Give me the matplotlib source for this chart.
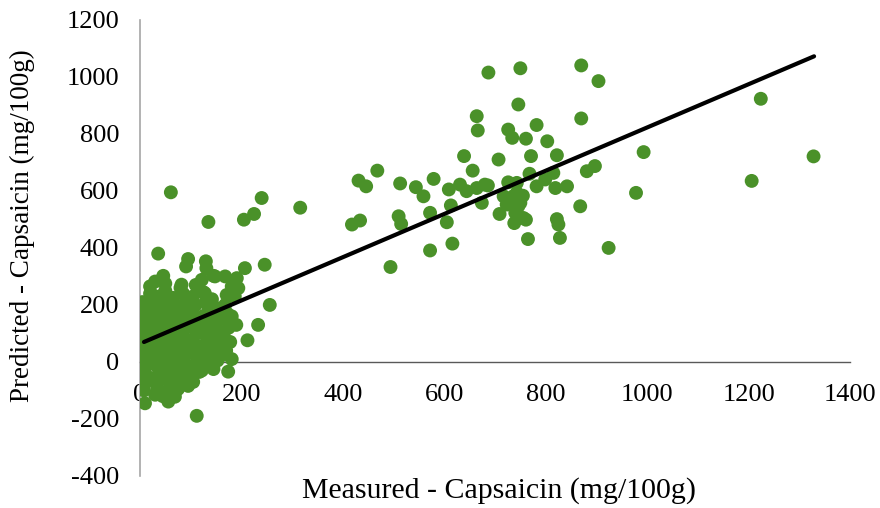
import matplotlib
matplotlib.use('Agg')
import matplotlib.pyplot as plt

plt.rcParams['font.family'] = ['Liberation Serif', 'DejaVu Serif']
plt.rcParams['axes.unicode_minus'] = False

# Low-concentration samples (dense cluster near the origin)
low_x = [5, 8, 4, 10, 6, 12, 5, 9, 4, 11, 6, 10, 5, 12, 8, 10,
         25, 30, 22, 35, 28, 24, 33, 27, 36, 22, 30, 38, 26, 34, 30, 36, 46, 25,
         45, 52, 48, 55, 42, 58, 47, 53, 44, 57, 49, 55, 45, 59, 56, 50,
         65, 70, 62, 75, 68, 72, 64, 78, 66, 73, 62, 77, 69, 69, 61, 82,
         85, 90, 83, 95, 88, 92, 84, 98, 86, 94, 82, 97, 89, 95, 95, 91,
         105, 110, 102, 115, 108, 112, 104, 118, 106, 114, 101, 117, 112,
         125, 122, 130, 128, 135, 124, 138, 127, 133, 122, 136, 128, 131, 130, 131,
         145, 148, 142, 150, 155, 146, 152, 144, 157, 149, 153, 145,
         168, 171, 168, 172, 175, 165, 178, 170, 181, 174, 181,
         191, 194, 187, 181, 171, 190,
         205, 225, 240, 135, 207, 246, 256, 233, 212,
         15, 18, 14, 17, 16, 19, 40, 42, 38, 41, 39, 60, 63, 58, 61, 80, 82,
         78, 100, 98, 103, 120, 118, 122, 140, 138, 160, 158, 20, 50, 80, 110,
         30, 55, 75, 105, 45, 20]
low_y = [210, 185, 160, 140, 120, 100, 80, 60, 40, 20, 0, -20, -45, -70, -100, -145,
         205, 180, 155, 130, 110, 90, 70, 50, 30, 10, -10, -35, -60, -90, 282, 380, 302, 235,
         215, 190, 165, 145, 125, 105, 85, 60, 40, 20, -5, -30, -55, -75, -139, 250,
         225, 200, 175, 155, 135, 110, 90, 70, 45, 25, 0, -20, -50, -122, 595, 271,
         240, 210, 185, 165, 140, 120, 95, 75, 50, 30, 5, -15, -40, -84, 361, 335,
         230, 200, 170, 150, 125, 100, 75, 55, 30, 10, -15, -35, -189,
         245, 288, 210, 241, 180, 160, 130, 105, 80, 55, 35, 10, -10, 353, 329,
         302, 300, 220, 190, 165, 140, 110, 85, 60, 35, 5, -25,
         300, 235, 200, 170, 120, 95, 70, 40, 10, -34, 265,
         294, 259, 230, 160, 148, 130,
         499, 519, 575, 491, 329, 341, 200, 130, 76,
         195, 150, 95, 45, -5, -55, 175, 100, 10, -45, 230, 160, 60, -10, -80, 20, 150,
         -60, 40, -50, 185, 140, 25, -30, 50, 160, 150, 20, 265, 275, 260, 270,
         -115, -100, -95, -70, -120, 240]

# Higher-concentration samples
high_x = [316, 418, 434, 431, 446, 468, 494, 510, 515, 513, 544, 559, 572, 572,
          579, 605, 609, 613, 616, 631, 639, 644, 656, 664, 664, 666, 674, 680,
          686, 687, 707, 709, 717, 723, 726, 726, 734, 736, 738, 740, 743, 743,
          746, 746, 750, 750, 755, 756, 761, 761, 765, 768, 771, 782, 782, 799,
          803, 815, 819, 822, 822, 825, 828, 842, 868, 870, 870, 881, 897, 904,
          924, 978, 993, 1206, 1224, 1328]
high_y = [541, 482, 496, 636, 616, 671, 333, 511, 484, 626, 613, 581, 523, 391,
          642, 490, 605, 549, 415, 622, 722, 599, 671, 610, 862, 812, 558, 622,
          619, 1015, 710, 519, 581, 552, 815, 630, 786, 581, 487, 523, 628, 593,
          546, 903, 1030, 558, 583, 505, 783, 499, 431, 660, 722, 831, 616, 640,
          774, 663, 610, 725, 501, 482, 435, 616, 546, 854, 1040, 669, 687, 985,
          400, 593, 736, 635, 923, 721]

# Regression line end points
fit_x = [8, 1329]
fit_y = [70, 1072]

x_ticks = [0, 200, 400, 600, 800, 1000, 1200, 1400]
y_ticks = [-400, -200, 0, 200, 400, 600, 800, 1000, 1200]

green = '#4a9129'

fig = plt.figure(figsize=(8.8, 5.08), dpi=100)
ax = fig.add_axes([0.159, 0.063, 0.807, 0.898])

ax.scatter(low_x + high_x, low_y + high_y, s=100, color=green, edgecolors='none', zorder=3)
ax.plot(fit_x, fit_y, color='black', lw=3, solid_capstyle='round', zorder=4)

ax.set_xlim(0, 1400)
ax.set_ylim(-400, 1200)
ax.set_xticks(x_ticks)
ax.set_yticks(y_ticks)

ax.spines['top'].set_visible(False)
ax.spines['right'].set_visible(False)
ax.spines['bottom'].set_position(('data', 0))
ax.spines['bottom'].set_color('#595959')
ax.spines['left'].set_color('#a6a6a6')
ax.spines['bottom'].set_linewidth(1.0)
ax.spines['left'].set_linewidth(1.2)

ax.tick_params(axis='x', length=0, pad=16, labelsize=19)
ax.tick_params(axis='y', length=0, pad=15, labelsize=19)

ax.set_xlabel('Measured - Capsaicin (mg/100g)', fontsize=21.5)
ax.set_ylabel('Predicted - Capsaicin (mg/100g)', fontsize=19.5)
ax.xaxis.set_label_coords(0.505, -0.031)
ax.yaxis.set_label_coords(-0.166, 0.548)
ax.xaxis.label.set_va('center')
ax.yaxis.label.set_va('center')

fig.savefig('out.png', dpi=100)
